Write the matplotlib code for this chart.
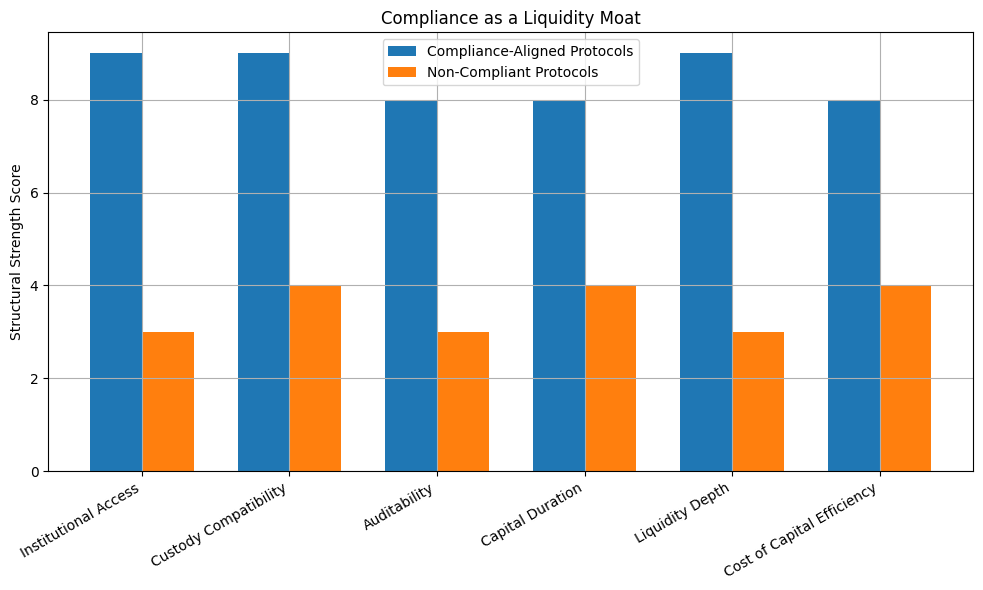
import numpy as np
import matplotlib
matplotlib.use("Agg")
import matplotlib.pyplot as plt

categories = [
    "Institutional Access",
    "Custody Compatibility",
    "Auditability",
    "Capital Duration",
    "Liquidity Depth",
    "Cost of Capital Efficiency",
]
compliant = [9, 9, 8, 8, 9, 8]
non_compliant = [3, 4, 3, 4, 3, 4]

x = np.arange(len(categories))
width = 0.35

fig, ax = plt.subplots(figsize=(10, 6), dpi=100)

ax.bar(x - width / 2, compliant, width, label="Compliance-Aligned Protocols")
ax.bar(x + width / 2, non_compliant, width, label="Non-Compliant Protocols")

ax.set_xticks(x)
ax.set_xticklabels(categories, rotation=30, ha="right")
ax.set_ylabel("Structural Strength Score")
ax.set_title("Compliance as a Liquidity Moat")
ax.legend(loc="upper center")
ax.grid(True)

plt.tight_layout()
plt.savefig("out.png", dpi=100, bbox_inches="tight")
